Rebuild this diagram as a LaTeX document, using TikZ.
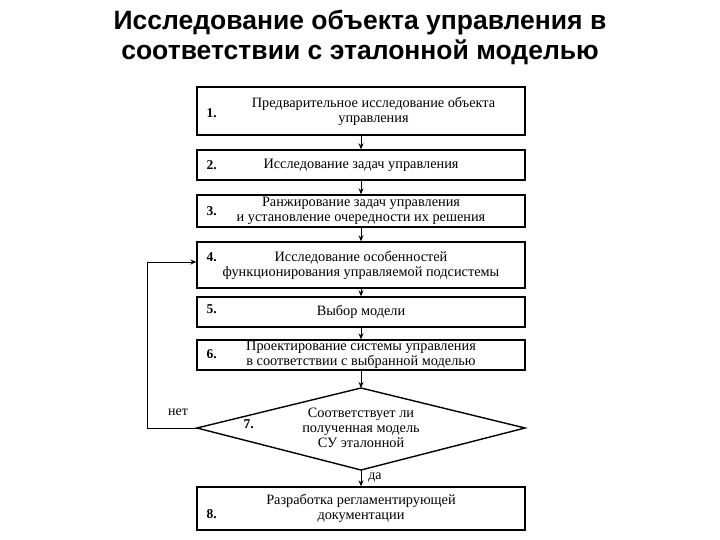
\documentclass[tikz,border=0pt]{standalone}
\usepackage{fontspec}
\setmainfont{Liberation Serif}
\newfontfamily\titlefont{Liberation Sans}
\usetikzlibrary{shapes.geometric,arrows.meta}
\begin{document}
\begin{tikzpicture}[x=1pt,y=-1pt,
 box/.style={draw,line width=1.4pt,minimum width=328pt,align=center,font=\fontsize{14.3}{15}\selectfont,inner sep=0pt},
 num/.style={font=\bfseries\fontsize{13.5}{14}\selectfont,anchor=west},
 arr/.style={-{Stealth[length=6pt,width=5pt]},line width=0.8pt}]
\useasboundingbox (0,0) rectangle (720,540);
\node[font=\titlefont\bfseries\fontsize{26.5}{30}\selectfont,align=center] (title) at (360,37) {Исследование объекта управления в\\соответствии с эталонной моделью};
\node[box,minimum height=48pt] (b1) at (361,111) {\hspace*{25pt}Предварительное исследование объекта\\\hspace*{25pt}управления};
\node[box,minimum height=30pt] (b2) at (361,165) {Исследование задач управления};
\node[box,minimum height=32pt] (b3) at (361,211) {Ранжирование задач управления\\и установление очередности их решения};
\node[box,minimum height=46pt] (b4) at (361,265) {Исследование особенностей\\функционирования управляемой подсистемы};
\node[box,minimum height=30pt] (b5) at (361,312) {Выбор модели};
\node[box,minimum height=30pt] (b6) at (361,355) {Проектирование системы управления\\в соответствии с выбранной моделью};
\draw[line width=1.4pt] (197,428) coordinate (dl) -- (361,388) coordinate (dt) -- (525,428) -- (361,470) coordinate (db) -- cycle;
\node[align=center,font=\fontsize{14.3}{15}\selectfont] (t7) at (361,428) {Соответствует ли\\полученная модель\\СУ эталонной};
\node[box,minimum height=43pt] (b8) at (361,508.5) {Разработка регламентирующей\\документации};
\node[num] (n1) at (203,113) {1.};
\node[num] (n2) at (203,165) {2.};
\node[num] (n3) at (203,211) {3.};
\node[num] (n4) at (203,257) {4.};
\node[num] (n5) at (203,309) {5.};
\node[num] (n6) at (203,354) {6.};
\node[num] (n7) at (240,424) {7.};
\node[num] (n8) at (203,514) {8.};
\draw[arr] (b1) -- (b2);
\draw[arr] (b2) -- (b3);
\draw[arr] (b3) -- (b4);
\draw[arr] (b4) -- (b5);
\draw[arr] (b5) -- (b6);
\draw[arr] (b6) -- (dt);
\draw[arr] (db) -- (b8);
\coordinate (lp) at (147,428);
\draw[arr] (dl) -- (lp) |- (b4.west |- 0,262);
\node[font=\fontsize{14}{15}\selectfont] (net) at (178,412) {нет};
\node[font=\fontsize{14}{15}\selectfont] (da) at (375,478) {да};
\end{tikzpicture}
\end{document}
